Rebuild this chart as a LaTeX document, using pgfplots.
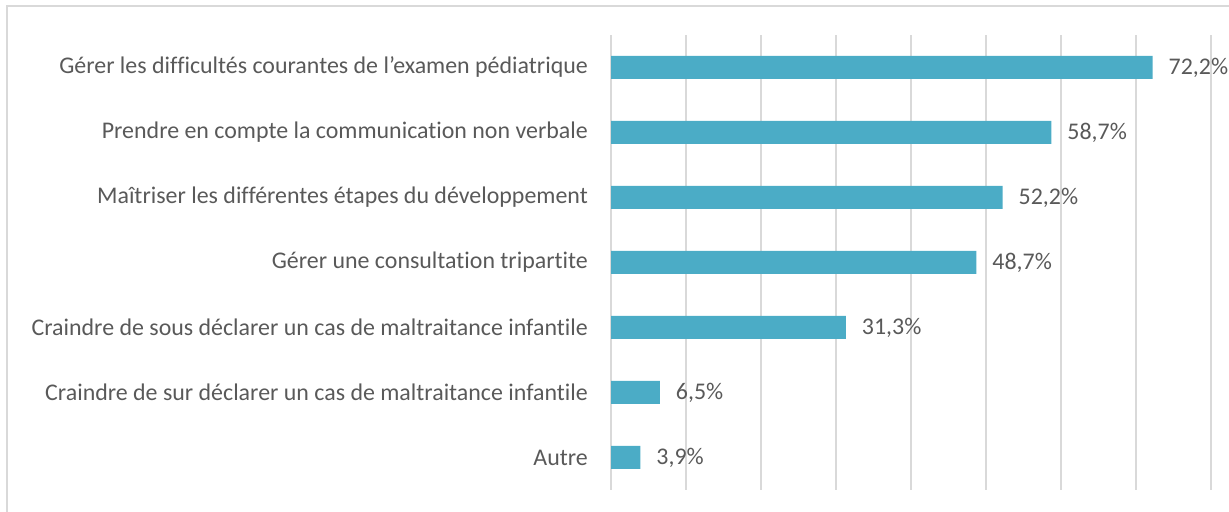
\documentclass[border=0pt]{standalone}
\usepackage{fontspec}
\setmainfont{Carlito}[Ligatures=NoCommon]
\usepackage{pgfplots}
\pgfplotsset{compat=1.18}
\definecolor{barc}{RGB}{75,172,198}
\definecolor{txt}{RGB}{89,89,89}
\definecolor{grd}{RGB}{217,217,217}
\begin{document}
\begin{tikzpicture}[x=1bp,y=1bp]
\path[use as bounding box] (0,0) rectangle (1229,512);
\draw[grd, line width=2bp] (7,0) -- (7,506) -- (1229,506);
\begin{axis}[
  at={(611bp,22bp)}, anchor=south west,
  scale only axis, width=600bp, height=455bp,
  xmin=0, xmax=80, ymin=-0.5, ymax=6.5,
  axis line style={draw=none},
  xtick={0,10,...,80}, xticklabels={},
  xmajorgrids, grid style={grd, line width=1.5bp},
  major tick length=0pt,
  ytick={0,...,6},
  yticklabels={Autre,
    Craindre de sur déclarer un cas de maltraitance infantile,
    Craindre de sous déclarer un cas de maltraitance infantile,
    Gérer une consultation tripartite,
    Maîtriser les différentes étapes du développement,
    Prendre en compte la communication non verbale,
    Gérer les difficultés courantes de l’examen pédiatrique},
  y tick label style={font=\fontsize{24}{28}\selectfont, text=txt, anchor=east, inner sep=0pt, xshift=-23bp},
  xbar, bar width=23bp,
  nodes near coords, point meta=explicit symbolic,
  nodes near coords style={font=\fontsize{24}{28}\selectfont, text=txt, anchor=west, inner sep=0pt, xshift=16bp},
]
\addplot[fill=barc, draw=none] coordinates {
  (3.9,0) [3,9\%]
  (6.5,1) [6,5\%]
  (31.3,2) [31,3\%]
  (48.7,3) [48,7\%]
  (52.2,4) [52,2\%]
  (58.7,5) [58,7\%]
  (72.2,6) [72,2\%]
};
\end{axis}
\end{tikzpicture}
\end{document}
